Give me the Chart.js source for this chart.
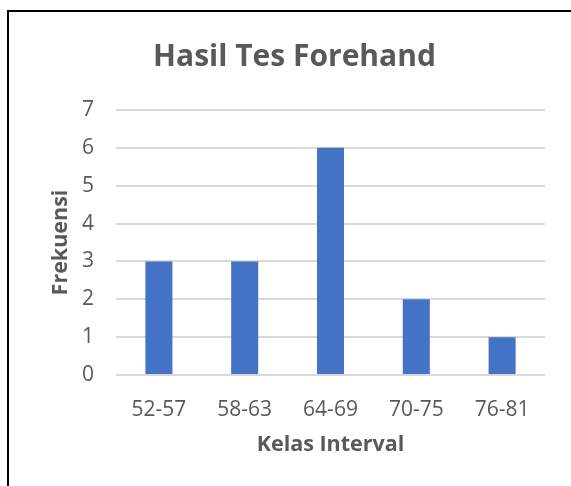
<!DOCTYPE html>
<html>
<head>
<meta charset="utf-8">
<script src="https://cdn.jsdelivr.net/npm/chart.js@4"></script>
<style>
  html, body { margin: 0; padding: 0; background: #fff; overflow: hidden; }
  #frame {
    position: absolute; left: 7px; top: 10px; width: 580px; height: 490px;
    border-top: 2px solid #000; border-left: 2px solid #000;
  }
  #chart_canvas { position: absolute; left: 8px; top: 12px; }
</style>
</head>
<body>
<div id="frame"></div>
<canvas id="chart_canvas" width="566" height="474"></canvas>
<script>
// the data
const kelas = ["52-57", "58-63", "64-69", "70-75", "76-81"];
const frekuensi = [3, 3, 6, 2, 1];
const y_ticks = [0, 1, 2, 3, 4, 5, 6, 7];

const font_name = "'Open Sans', sans-serif";
const grey = "#595959";

const chart_canvas = document.getElementById("chart_canvas");

chart = new Chart(chart_canvas.getContext("2d"), {
  type: "bar",
  data: {
    labels: kelas,
    datasets: [{
      label: "Frekuensi",
      data: frekuensi,
      backgroundColor: "#4472C4",
      borderWidth: 0,
      categoryPercentage: 1,
      barPercentage: 0.315
    }]
  },
  options: {
    responsive: false,
    animation: false,
    layout: { padding: { left: 36, right: 29, top: 0, bottom: 24 } },
    plugins: {
      legend: { display: false },
      tooltip: { enabled: false },
      title: {
        display: true,
        text: "Hasil Tes Forehand",
        color: grey,
        font: { family: font_name, size: 30, weight: "bold" },
        padding: { top: 27, bottom: 35 }
      }
    },
    scales: {
      x: {
        grid: { display: false, drawTicks: false },
        border: { display: false },
        ticks: { color: grey, font: { family: font_name, size: 21 }, padding: 22, maxRotation: 0 },
        title: {
          display: true, text: "Kelas Interval", color: grey,
          font: { family: font_name, size: 21.5, weight: "bold" }, padding: { top: 4, bottom: 4 }
        },
        afterFit: s => { s.height = 87; }
      },
      y: {
        min: 0, max: 7,
        afterBuildTicks: s => { s.ticks = y_ticks.map(v => ({ value: v })); },
        grid: { color: "#D9D9D9", lineWidth: 2, drawTicks: false },
        border: { display: false },
        ticks: { color: grey, font: { family: font_name, size: 21 }, padding: 22 },
        title: {
          display: true, text: "Frekuensi", color: grey,
          font: { family: font_name, size: 21.5, weight: "bold" }, padding: { top: 4, bottom: 4 }
        },
        afterFit: s => { s.width = 72; }
      }
    }
  }
});
</script>
</body>
</html>
